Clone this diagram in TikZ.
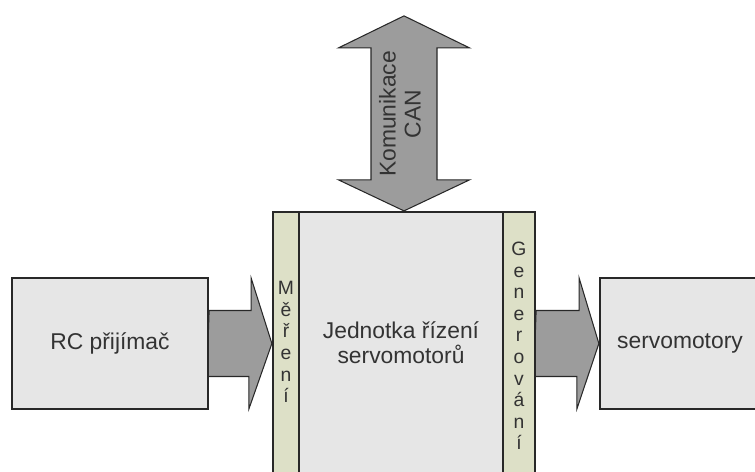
\documentclass[tikz,border=0pt]{standalone}
\usepackage{fontspec}
\setmainfont{Liberation Sans}
\usetikzlibrary{calc, backgrounds}

\definecolor{boxgray}{RGB}{230,230,230}
\definecolor{stripgreen}{RGB}{221,224,199}
\definecolor{arrowgray}{RGB}{156,156,156}
\definecolor{edgegray}{RGB}{40,40,40}

\tikzset{
    unitbox/.style={draw=edgegray, line width=1.3pt, fill=boxgray, inner sep=0pt},
    stripbox/.style={unitbox, fill=stripgreen},
    fatarrow/.style={draw=edgegray, line width=0.6pt, fill=arrowgray, line join=miter},
    bigtext/.style={font=\fontsize{13}{14.2}\selectfont, text=black!80, align=center},
    lettertext/.style={font=\fontsize{11}{12.3}\selectfont, text=black!80, align=center},
}

\begin{document}
\begin{tikzpicture}[x=0.02cm, y=0.02cm]

            \useasboundingbox (0,0) rectangle (755,471);
            \clip (0,0) rectangle (755,471);

            % Control unit with its two side strips
            \node[unitbox, minimum width=5.24cm, minimum height=5.66cm] (main) at (404,117.5) {};
            \node[stripbox, minimum width=0.52cm, minimum height=5.66cm, anchor=west] (mer) at (main.west) {};
            \node[stripbox, minimum width=0.64cm, minimum height=5.66cm, anchor=east] (gen) at (main.east) {};

            % Outer blocks
            \node[unitbox, minimum width=3.92cm, minimum height=2.62cm] (rc) at (110,127.5) {};
            \node[unitbox, minimum width=3.2cm, minimum height=2.62cm] (servo) at (680,127.5) {};

            % Texts
            \node[bigtext] (title) at (401,128) {Jednotka řízení\\servomotorů};
            \node[bigtext] (rctext) at (rc.center) {RC přijímač};
            \node[bigtext] (servotext) at (servo.center) {servomotory};
            \node[lettertext] (mertext) at (286,129) {M\\ě\\ř\\e\\n\\í};
            \node[lettertext] (gentext) at (519,125) {G\\e\\n\\e\\r\\o\\v\\á\\n\\í};

            % Block arrows
            \begin{scope}[on background layer]
                \draw[fatarrow] ($(rc.east)+(0,33)$) -- ++(42,0) -- ++(0,32.5)
                    -- (rc.east -| mer.west) -- ++(-23,-65.5) -- ++(0,32.5) -- ++(-42,0) -- cycle;
                \draw[fatarrow] ($(gen.east |- servo.west)+(0,33)$) -- ++(43,0) -- ++(0,32.5)
                    -- (servo.west) -- ++(-22,-65.5) -- ++(0,32.5) -- ++(-43,0) -- cycle;
                \draw[fatarrow] (main.north) -- ++(-65.5,31) -- ++(32.5,0) -- ++(0,132) -- ++(-32.5,0)
                    -- ++(65.5,32) -- ++(65.5,-32) -- ++(-32.5,0) -- ++(0,-132) -- ++(32.5,0) -- cycle;
            \end{scope}
            \node[bigtext, rotate=90] (can) at (400,357) {Komunikace\\CAN};

        \end{tikzpicture}
\end{document}
